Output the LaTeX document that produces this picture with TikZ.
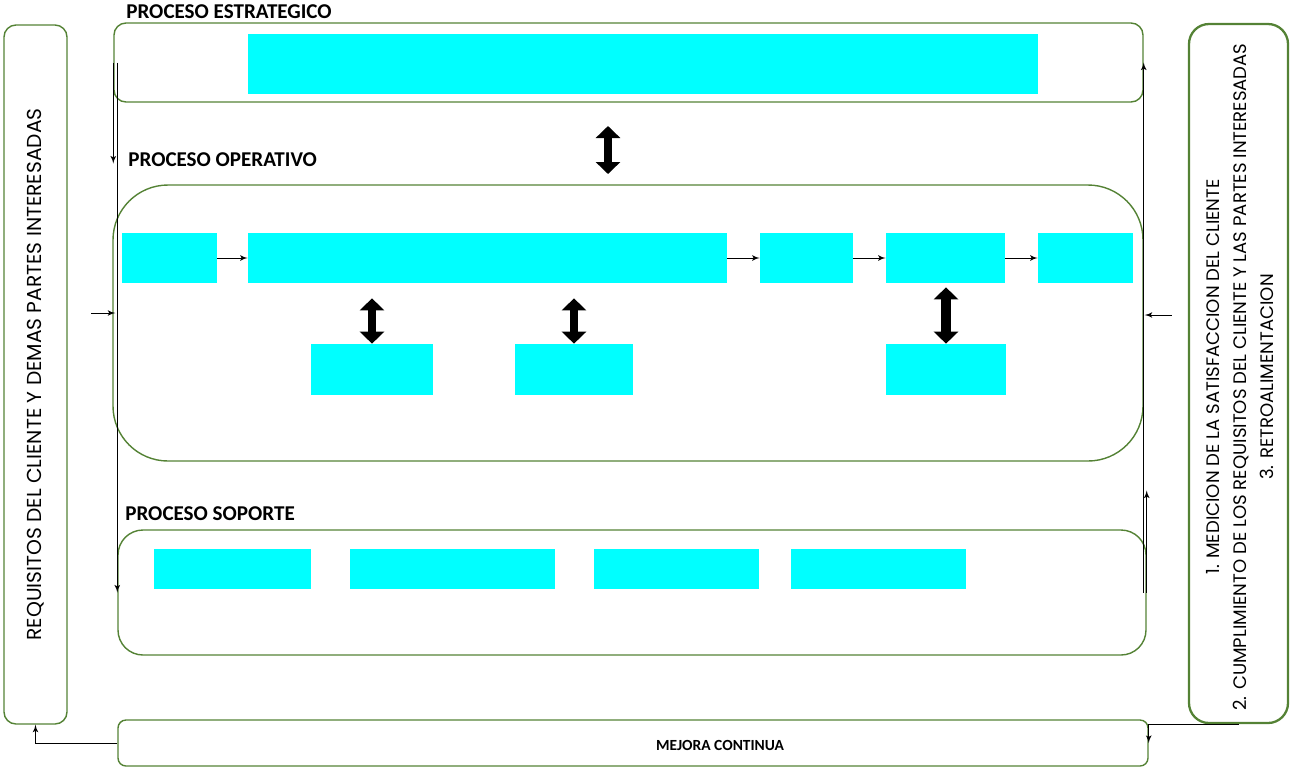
\documentclass[tikz,border=0pt]{standalone}
\usepackage{fontspec}
\setmainfont{Carlito}
\newfontfamily\gothicfont{Poppins}
\usetikzlibrary{arrows,arrows.meta,positioning,calc}
\definecolor{procgreen}{RGB}{84,130,53}
\definecolor{taskcyan}{RGB}{0,255,255}
\tikzset{
procbox/.style = {draw=procgreen, line width=0.8pt, rectangle, inner sep=0pt},
task/.style = {fill=taskcyan, rectangle, inner sep=0pt},
wd/.style = {minimum width=#1*0.02cm},
ht/.style = {minimum height=#1*0.02cm},
title/.style = {font=\bfseries\fontsize{12}{14}\selectfont, anchor=west, inner sep=0pt},
flow/.style = {->, black, line width=0.5pt},
bigarrow/.style = {line width=0.16cm, {Triangle[width=0.48cm,length=0.24cm]}-{Triangle[width=0.48cm,length=0.24cm]}}
}

\begin{document}
\begin{tikzpicture}[x=0.02cm, y=-0.02cm, >=latex']
\useasboundingbox (0,0) rectangle (1291,769);

% side panels
\node [procbox, wd=63, ht=699, rounded corners=0.24cm] (leftbox) at (35.5,374.5) {};
\node [rotate=90, font=\gothicfont\fontsize{11.5}{14}\selectfont] (leftlbl) at (leftbox) {REQUISITOS DEL CLIENTE Y DEMAS PARTES INTERESADAS};
\node [procbox, wd=99, ht=699, line width=1.3pt, rounded corners=0.4cm] (rightbox) at (1238.5,373.5) {};
\node [rotate=90, align=center, font=\gothicfont\fontsize{10.3}{15.4}\selectfont] (rightlbl) at (1240,377) {1. MEDICION DE LA SATISFACCION DEL CLIENTE\\2. CUMPLIMIENTO DE LOS REQUISITOS DEL CLIENTE Y LAS PARTES INTERESADAS\\3. RETROALIMENTACION};

% proceso estrategico
\node [title] (stratlbl) at (126,12) {PROCESO ESTRATEGICO};
\node [procbox, wd=1029, ht=79, rounded corners=0.24cm] (stratbox) at (628.5,62.5) {};
\node [task, wd=790, ht=60] (strat) at (643,64) {};

% proceso operativo
\node [title] (oplbl) at (128,160) {PROCESO OPERATIVO};
\node [procbox, wd=1030, ht=276, rounded corners=1.1cm] (opbox) at (628,323) {};
\node [task, wd=95, ht=50] (op1) at (169.5,258) {};
\node [task, wd=479, ht=50] (op2) at (487.5,258) {};
\node [task, wd=93, ht=50] (op3) at (806.5,258) {};
\node [task, wd=119, ht=50] (op4) at (945.5,258) {};
\node [task, wd=95, ht=50] (op5) at (1085.5,258) {};
\node [task, wd=122, ht=51] (low1) at (372,369.5) {};
\node [task, wd=118, ht=51] (low2) at (574,369.5) {};
\node [task, wd=120, ht=51] (low3) at (946,369.5) {};

\draw [flow] (op1) -- (op2);
\draw [flow] (op2) -- (op3);
\draw [flow] (op3) -- (op4);
\draw [flow] (op4) -- (op5);

\coordinate (linktop) at (608,126);
\coordinate (linkbot) at (608,174);
\draw [bigarrow] (linktop) -- (linkbot);
\draw [bigarrow, shorten <=15*0.02cm] (low1.north |- op2.south) -- (low1.north);
\draw [bigarrow, shorten <=15*0.02cm] (low2.north |- op2.south) -- (low2.north);
\draw [bigarrow, line width=0.2cm, shorten <=4*0.02cm] (low3.north |- op4.south) -- (low3.north);

% proceso soporte
\node [title] (suplbl) at (125,514) {PROCESO SOPORTE};
\node [procbox, wd=1028, ht=125, rounded corners=0.5cm] (supbox) at (632,592.5) {};
\node [task, wd=157, ht=40] (sup1) at (232.5,569) {};
\node [task, wd=205, ht=40] (sup2) at (452.5,569) {};
\node [task, wd=165, ht=40] (sup3) at (676.5,569) {};
\node [task, wd=175, ht=40] (sup4) at (878.5,569) {};

% mejora continua
\node [procbox, wd=1030, ht=46, rounded corners=0.16cm] (mejora) at (633,743) {};
\node [font=\bfseries\fontsize{8.8}{10}\selectfont] (mejoralbl) at (720,745) {MEJORA CONTINUA};

% retroalimentacion
\draw [flow] (stratbox.west) -- ++(0,101);
\draw [flow] ([xshift=4*0.02cm]stratbox.west) -- (supbox.west);
\draw [flow] ($(opbox.west)+(-21,-10)$) -- ++(24,0);
\draw [flow] (stratbox.east |- supbox.east) -- (stratbox.east);
\draw [flow] (supbox.east) -- ++(0,-102);
\draw [flow] ($(opbox.east)+(28,-8)$) -- ++(-27,0);
\draw [flow] (rightbox.south) -| (mejora.east);
\draw [flow] (mejora.west) -| (leftbox.south);
\end{tikzpicture}
\end{document}
